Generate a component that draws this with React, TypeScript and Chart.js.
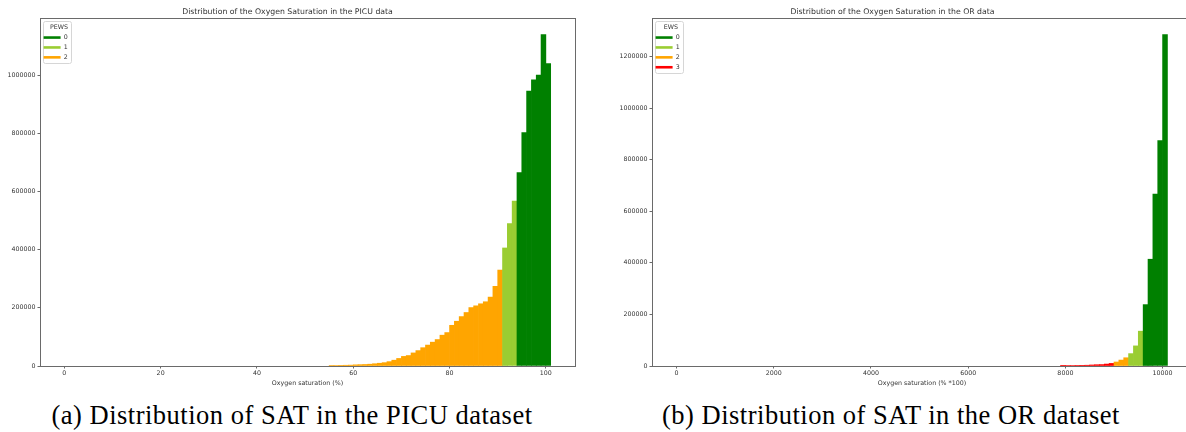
import React, { useEffect, useRef } from "react";
import { Chart, registerables } from "chart.js";
Chart.register(...registerables);

// ---------- PICU data (bins of width 1, value = bin start) ----------
const picuBinWidth = 1;
const picuRange = [0, 101];
const picuXTicks = [0, 20, 40, 60, 80, 100];
const picuYTicks = [0, 200000, 400000, 600000, 800000, 1000000];

const picuPews2Bins = [55, 56, 57, 58, 59, 60, 61, 62, 63, 64, 65, 66, 67, 68, 69, 70, 71, 72, 73, 74, 75, 76, 77, 78, 79, 80, 81, 82, 83, 84, 85, 86, 87, 88, 89, 90];
const picuPews2Counts = [1500, 1800, 2200, 2600, 3000, 4000, 4600, 5200, 6200, 7800, 9500, 11500, 15000, 20000, 26000, 33000, 36000, 45000, 53000, 63000, 72000, 82000, 91000, 106000, 115000, 140000, 154000, 170000, 184000, 201000, 207000, 214000, 221000, 237000, 274000, 330000];
const picuPews1Bins = [91, 92, 93];
const picuPews1Counts = [406000, 490000, 567000];
const picuPews0Bins = [94, 95, 96, 97, 98, 99, 100];
const picuPews0Counts = [665000, 803000, 946000, 984000, 1001000, 1140000, 1040000];

// ---------- OR data (bins of width 100, value = bin start) ----------
const orBinWidth = 100;
const orRange = [0, 10100];
const orXTicks = [0, 2000, 4000, 6000, 8000, 10000];
const orYTicks = [0, 200000, 400000, 600000, 800000, 1000000, 1200000];

const orEws3Bins = [7900, 8000, 8100, 8200, 8300, 8400, 8500, 8600, 8700, 8800, 8900];
const orEws3Counts = [1000, 1800, 2000, 2300, 2600, 3000, 4000, 5000, 5500, 7500, 10000];
const orEws2Bins = [9000, 9100, 9200];
const orEws2Counts = [15500, 23000, 32000];
const orEws1Bins = [9300, 9400, 9500];
const orEws1Counts = [48000, 78000, 135000];
const orEws0Bins = [9600, 9700, 9800, 9900, 10000];
const orEws0Counts = [238000, 414000, 667000, 874000, 1285000];

const GREEN = "#008000";
const YELLOWGREEN = "#9acd32";
const ORANGE = "#ffa500";
const RED = "#ff0000";

const TEXT = "#333333";
const SPINE = "#6a6a6a";
const MPL_FONT = "'DejaVu Sans', sans-serif";

type Group = { label: string; color: string; bins: number[]; counts: number[] };

const picuGroups: Group[] = [
  { label: "0", color: GREEN, bins: picuPews0Bins, counts: picuPews0Counts },
  { label: "1", color: YELLOWGREEN, bins: picuPews1Bins, counts: picuPews1Counts },
  { label: "2", color: ORANGE, bins: picuPews2Bins, counts: picuPews2Counts },
];
const orGroups: Group[] = [
  { label: "0", color: GREEN, bins: orEws0Bins, counts: orEws0Counts },
  { label: "1", color: YELLOWGREEN, bins: orEws1Bins, counts: orEws1Counts },
  { label: "2", color: ORANGE, bins: orEws2Bins, counts: orEws2Counts },
  { label: "3", color: RED, bins: orEws3Bins, counts: orEws3Counts },
];

const framePlugin = {
  id: "frame",
  afterLayout(chart: any) {
    // place the legend (drawn inside the chart area) at the top-left corner of the plot
    const lg = chart.legend;
    if (!lg) return;
    const dy = chart.chartArea.top - lg.top;
    lg.top += dy;
    lg.bottom += dy;
    (lg.legendHitBoxes || []).forEach((h: any) => {
      h.top += dy;
    });
  },
  beforeDraw(chart: any) {
    const lg = chart.legend;
    if (!lg || !lg.legendHitBoxes || !lg.legendHitBoxes.length) return;
    const hb = lg.legendHitBoxes;
    let r = -Infinity, b = -Infinity;
    hb.forEach((h: any) => {
      r = Math.max(r, h.left + h.width);
      b = Math.max(b, h.top + h.height);
    });
    const ca = chart.chartArea;
    const x0 = Math.round(ca.left + 3) + 0.5;
    const y0 = Math.round(ca.top + 3) + 0.5;
    const x1 = Math.round(r + 3) + 0.5;
    const y1 = Math.round(b + 2.5) + 0.5;
    const ctx = chart.ctx;
    ctx.save();
    ctx.beginPath();
    ctx.roundRect(x0, y0, x1 - x0, y1 - y0, 2);
    ctx.fillStyle = "rgba(255,255,255,0.8)";
    ctx.fill();
    ctx.strokeStyle = "#d6d6d6";
    ctx.lineWidth = 1;
    ctx.stroke();
    ctx.restore();
  },
  afterDraw(chart: any) {
    const ca = chart.chartArea;
    const ctx = chart.ctx;
    ctx.save();
    ctx.strokeStyle = SPINE;
    ctx.lineWidth = 1;
    const x0 = Math.round(ca.left) + 0.5;
    const y0 = Math.round(ca.top) + 0.5;
    const x1 = Math.round(ca.right) + 0.5;
    const y1 = Math.round(ca.bottom) + 0.5;
    ctx.strokeRect(x0, y0, x1 - x0, y1 - y0);
    ctx.restore();
  },
};

type HistProps = {
  title: string;
  legendTitle: string;
  groups: Group[];
  binWidth: number;
  xRange: number[];
  xTicks: number[];
  yTicks: number[];
  xLabel: string;
  width: number;
  height: number;
  yAxisWidth: number;
  padRight: number;
};

function HistChart(p: HistProps) {
  const ref = useRef<HTMLCanvasElement | null>(null);
  useEffect(() => {
    if (!ref.current) return;
    const span = p.xRange[1] - p.xRange[0];
    let ymax = 0;
    p.groups.forEach((g) => g.counts.forEach((c) => (ymax = Math.max(ymax, c))));
    const tickFont = { family: MPL_FONT, size: 6.3 };
    const chart = new Chart(ref.current, {
      type: "bar",
      data: {
        datasets: p.groups.map((g) => ({
          label: g.label,
          data: g.bins.map((b, i) => ({ x: b + p.binWidth / 2, y: g.counts[i] })),
          backgroundColor: g.color,
          borderWidth: 0,
          barPercentage: 1,
          categoryPercentage: 1,
          grouped: false,
        })),
      },
      options: {
        animation: false,
        responsive: false,
        devicePixelRatio: 1,
        layout: { padding: { left: 0, right: p.padRight, top: 0, bottom: 0 } },
        plugins: {
          tooltip: { enabled: false },
          title: {
            display: true,
            text: p.title,
            color: TEXT,
            font: { family: MPL_FONT, size: 7.75, weight: "normal", lineHeight: 1.2 },
            padding: { top: 7.6, bottom: 1.1 },
          },
          legend: {
            display: true,
            position: "chartArea",
            align: "start",
            title: {
              display: true,
              text: p.legendTitle,
              color: TEXT,
              font: { family: MPL_FONT, size: 6.3, lineHeight: 1 },
              padding: { top: 6.5, bottom: 0 },
            },
            labels: {
              usePointStyle: true,
              pointStyle: "line",
              pointStyleWidth: 17,
              boxHeight: 6,
              padding: 3.6,
              color: TEXT,
              font: { family: MPL_FONT, size: 6.3 },
              generateLabels: (chart: any) =>
                chart.data.datasets.map((d: any, i: number) => ({
                  text: d.label,
                  fillStyle: d.backgroundColor,
                  strokeStyle: d.backgroundColor,
                  lineWidth: 2.6,
                  pointStyle: "line",
                  hidden: false,
                  datasetIndex: i,
                  fontColor: TEXT,
                })),
            },
          },
        },
        scales: {
          x: {
            type: "linear",
            offset: false,
            min: p.xRange[0] - 0.05 * span,
            max: p.xRange[1] + 0.05 * span,
            afterBuildTicks: (s: any) => {
              s.ticks = p.xTicks.map((v) => ({ value: v }));
            },
            afterFit: (s: any) => {
              s.height = 34;
            },
            ticks: {
              autoSkip: false,
              maxRotation: 0,
              color: TEXT,
              font: tickFont,
              padding: 1.5,
              callback: (v: any) => String(v),
            },
            grid: { offset: false, drawOnChartArea: false, drawTicks: true, tickLength: 2.5, tickColor: SPINE },
            border: { display: false },
            title: {
              display: true,
              text: p.xLabel,
              color: TEXT,
              font: tickFont,
              padding: { top: 0, bottom: 13 },
            },
          },
          y: {
            type: "linear",
            min: 0,
            max: ymax * 1.05,
            afterBuildTicks: (s: any) => {
              s.ticks = p.yTicks.map((v) => ({ value: v }));
            },
            afterFit: (s: any) => {
              s.width = p.yAxisWidth;
            },
            ticks: {
              color: TEXT,
              font: tickFont,
              padding: 2,
              callback: (v: any) => String(v),
            },
            grid: { drawOnChartArea: false, drawTicks: true, tickLength: 2.5, tickColor: SPINE },
            border: { display: false },
          },
        },
      } as any,
      plugins: [framePlugin],
    });
    return () => chart.destroy();
  }, []);
  return (
    <canvas
      ref={ref}
      width={p.width}
      height={p.height}
      style={{ width: p.width, height: p.height, display: "block" }}
    />
  );
}

const captionStyle: React.CSSProperties = {
  position: "absolute",
  top: 400,
  height: 30,
  lineHeight: "30px",
  fontFamily: "'Liberation Serif', 'DejaVu Serif', serif",
  fontSize: 26.5,
  letterSpacing: "0.5px",
  color: "#000",
  textAlign: "center",
  whiteSpace: "nowrap",
};

export default function App() {
  return (
    <div
      style={{
        position: "fixed",
        left: 0,
        top: 0,
        width: 1186,
        height: 432,
        overflow: "hidden",
        background: "#ffffff",
      }}
    >
      <div style={{ position: "absolute", left: 0, top: 0 }}>
        <HistChart
          title="Distribution of the Oxygen Saturation in the PICU data"
          legendTitle="PEWS"
          groups={picuGroups}
          binWidth={picuBinWidth}
          xRange={picuRange}
          xTicks={picuXTicks}
          yTicks={picuYTicks}
          xLabel="Oxygen saturation (%)"
          width={593}
          height={400}
          yAxisWidth={40}
          padRight={18}
        />
      </div>
      <div style={{ position: "absolute", left: 593, top: 0 }}>
        <HistChart
          title="Distribution of the Oxygen Saturation in the OR data"
          legendTitle="EWS"
          groups={orGroups}
          binWidth={orBinWidth}
          xRange={orRange}
          xTicks={orXTicks}
          yTicks={orYTicks}
          xLabel="Oxygen saturation (% *100)"
          width={607}
          height={400}
          yAxisWidth={59}
          padRight={8}
        />
      </div>
      <div style={{ ...captionStyle, left: 0, width: 584 }}>(a) Distribution of SAT in the PICU dataset</div>
      <div style={{ ...captionStyle, left: 600, width: 582 }}>(b) Distribution of SAT in the OR dataset</div>
    </div>
  );
}
